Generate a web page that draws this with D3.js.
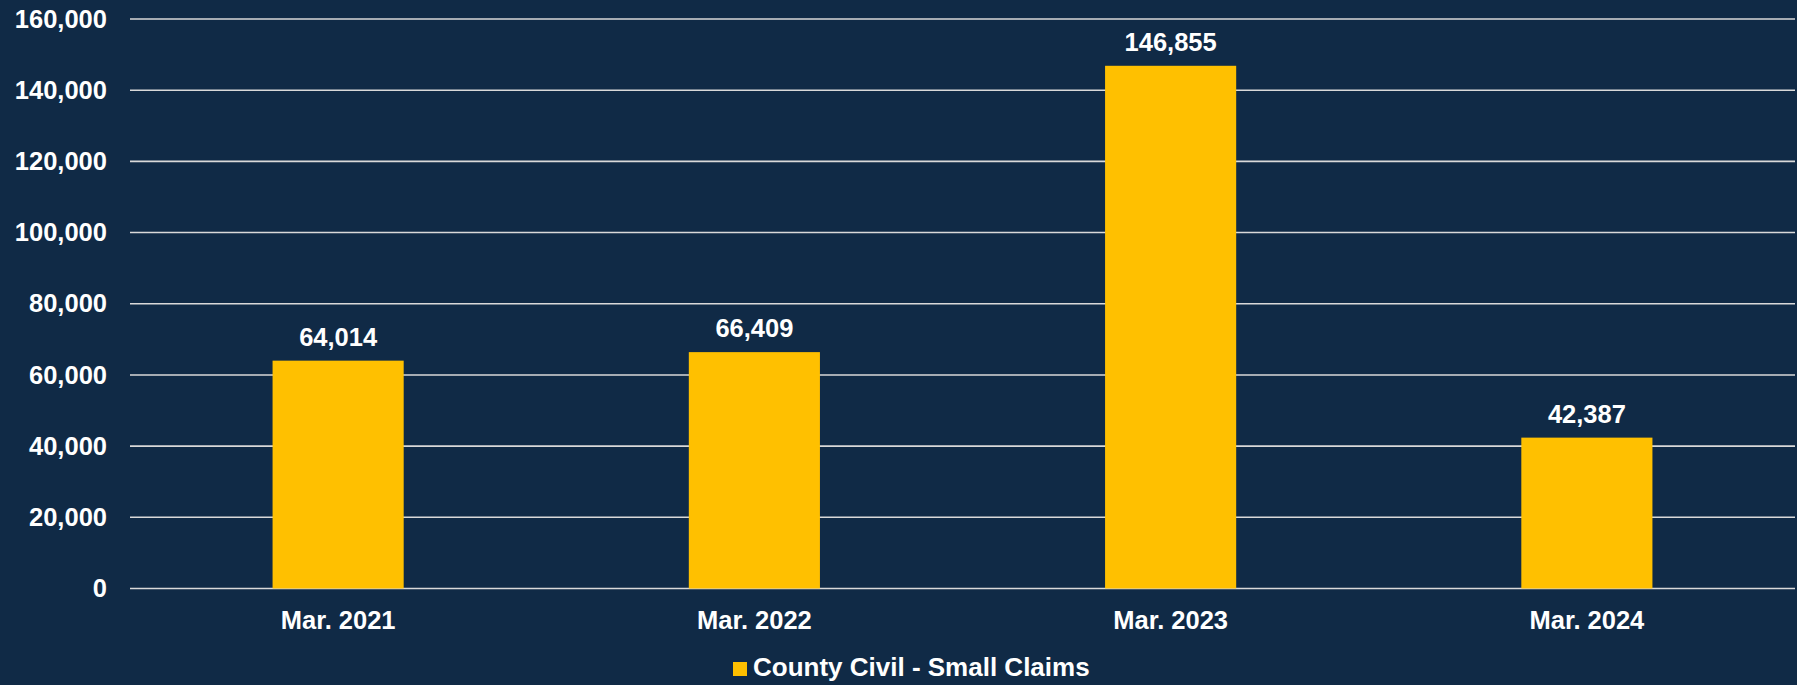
<!DOCTYPE html>
<html lang="en">
<head>
    <meta charset="UTF-8">
    <title>County Civil - Small Claims</title>
    <script src="https://d3js.org/d3.v7.min.js"></script>
    <style>
        body { margin: 0; background: #102a46; }
        svg { display: block; }
        text { font-family: "Liberation Sans", Arial, sans-serif; font-weight: bold; fill: #ffffff; }
    </style>
</head>
<body>
    <div id="chart"></div>
    <script>
        // data
        var categories = ["Mar. 2021", "Mar. 2022", "Mar. 2023", "Mar. 2024"];
        var values = [64014, 66409, 146855, 42387];
        var yTicks = [0, 20000, 40000, 60000, 80000, 100000, 120000, 140000, 160000];
        var seriesName = "County Civil - Small Claims";

        var W = 1797, H = 685;
        var margin = { top: 19, right: 2, bottom: 96.5, left: 130 },
            width = W - margin.left - margin.right,
            height = H - margin.top - margin.bottom;

        var svg = d3.select("#chart")
            .append("svg")
            .attr("width", W)
            .attr("height", H);

        svg.append("rect")
            .attr("width", W)
            .attr("height", H)
            .attr("fill", "#102a46");

        var g = svg.append("g")
            .attr("transform", "translate(" + margin.left + "," + margin.top + ")");

        var x = d3.scaleBand().domain(categories).range([0, width]).padding(0);
        var y = d3.scaleLinear().domain([0, 160000]).range([height, 0]);
        var barW = x.bandwidth() * 0.315;

        // gridlines
        g.selectAll(".grid")
            .data(yTicks)
            .enter()
            .append("line")
            .attr("class", "grid")
            .attr("x1", 0)
            .attr("x2", width)
            .attr("y1", function (d) { return y(d); })
            .attr("y2", function (d) { return y(d); })
            .attr("stroke", "#d9d9d9")
            .attr("stroke-width", 1.6);

        // y axis labels
        var yAxis = g.append("g")
            .call(d3.axisLeft(y).tickValues(yTicks).tickSize(0).tickPadding(23).tickFormat(d3.format(",")));
        yAxis.select(".domain").remove();
        yAxis.selectAll("text")
            .style("font-size", "25.5px")
            .style("font-family", "'Liberation Sans', Arial, sans-serif")
            .style("font-weight", "bold")
            .attr("fill", "#ffffff");

        // bars
        g.selectAll(".bar")
            .data(values)
            .enter()
            .append("rect")
            .attr("class", "bar")
            .attr("x", function (d, i) { return x(categories[i]) + (x.bandwidth() - barW) / 2; })
            .attr("width", barW)
            .attr("y", function (d) { return y(d); })
            .attr("height", function (d) { return height - y(d); })
            .attr("fill", "#ffc000");

        // value labels
        g.selectAll(".val")
            .data(values)
            .enter()
            .append("text")
            .attr("class", "val")
            .attr("x", function (d, i) { return x(categories[i]) + x.bandwidth() / 2; })
            .attr("y", function (d) { return y(d) - 15; })
            .attr("text-anchor", "middle")
            .style("font-size", "25.5px")
            .text(function (d) { return d3.format(",")(d); });

        // x axis labels
        var xAxis = g.append("g")
            .attr("transform", "translate(0," + height + ")")
            .call(d3.axisBottom(x).tickSize(0).tickPadding(22));
        xAxis.select(".domain").remove();
        xAxis.selectAll("text")
            .style("font-size", "25.5px")
            .style("font-family", "'Liberation Sans', Arial, sans-serif")
            .style("font-weight", "bold")
            .attr("fill", "#ffffff");

        // legend
        var legend = svg.append("g").attr("transform", "translate(733,662)");
        legend.append("rect")
            .attr("width", 14)
            .attr("height", 14)
            .attr("fill", "#ffc000");
        legend.append("text")
            .attr("x", 20)
            .attr("y", 14)
            .style("font-size", "26px")
            .text(seriesName);
    </script>
</body>
</html>
